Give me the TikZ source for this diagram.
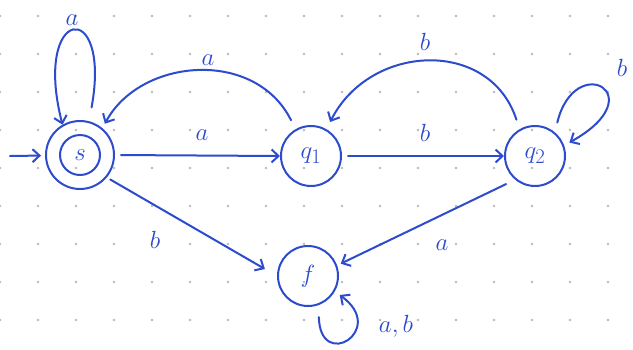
\documentclass[tikz,border=0pt]{standalone}
\usetikzlibrary{arrows.meta}
\definecolor{ink}{RGB}{45,75,205}
\definecolor{dotc}{RGB}{185,185,185}
\begin{document}
\begin{tikzpicture}[x=1pt,y=-1pt,
  state/.style={circle,draw=ink,line width=2pt,minimum size=60pt,inner sep=0pt,text=ink,font=\fontsize{28}{32}\selectfont},
  edge/.style={draw=ink,line width=2pt,line cap=round,-{Straight Barb[length=7pt,width=13pt,line width=2pt]}},
  lbl/.style={text=ink,inner sep=0pt,font=\fontsize{34}{38}\selectfont},
  slbl/.style={text=ink,inner sep=0pt,font=\fontsize{26}{30}\selectfont}]
\useasboundingbox (0,0) rectangle (633,349);
\fill[white] (0,0) rectangle (633,349);
\foreach \i in {0,...,16} \foreach \j in {0,...,8} \fill[dotc] (38*\i,16+38*\j) circle (1.3pt);
% states
\node[state,minimum size=68pt] (s) at (80,155) {};
\node[state,minimum size=40pt] (si) at (s) {$s$};
\node[state] (q1) at (311,156) {$q_1$};
\node[state] (q2) at (535,156) {$q_2$};
\node[state,minimum size=60pt] (f) at (308,276) {$f$};
% initial arrow
\coordinate (init) at (10,156);
\draw[edge,shorten >=4pt] (init) -- (s);
% transitions
\draw[edge,shorten <=14pt] (s.75) .. controls (112,-4) and (32,6) .. (s.120);
\draw[edge,shorten <=6pt] (s.east) -- (q1.west);
\draw[edge,shorten <=10pt,shorten >=5pt] (q1.120) .. controls (255,48) and (140,58) .. (s.50);
\draw[edge,shorten <=6pt] (q1.east) -- (q2.west);
\draw[edge,shorten <=10pt,shorten >=8pt] (q2.120) .. controls (490,38) and (370,43) .. (q1.60);
\draw[edge,shorten <=10pt,shorten >=6pt] (q2.50) .. controls (575,50) and (655,95) .. (q2.20);
\draw[edge,shorten <=4pt,shorten >=14pt] (s.-40) -- (f.west);
\draw[edge,shorten <=10pt,shorten >=4pt] (q2.-130) -- (f.20);
\draw[edge,shorten <=12pt,shorten >=6pt] (f.290) .. controls (320,372) and (388,330) .. (f.330);
% labels
\node[lbl] (la1) at (72,20) {$a$};
\node[lbl] (la2) at (202,135) {$a$};
\node[slbl] (la3) at (208,60) {$a$};
\node[lbl] (lb1) at (425,133) {$b$};
\node[lbl] (lb2) at (425,42) {$b$};
\node[lbl] (lb3) at (622,68) {$b$};
\node[lbl] (lb4) at (155,240) {$b$};
\node[lbl] (la4) at (442,245) {$a$};
\node[lbl] (lab) at (396,326) {$a,b$};
\end{tikzpicture}
\end{document}
